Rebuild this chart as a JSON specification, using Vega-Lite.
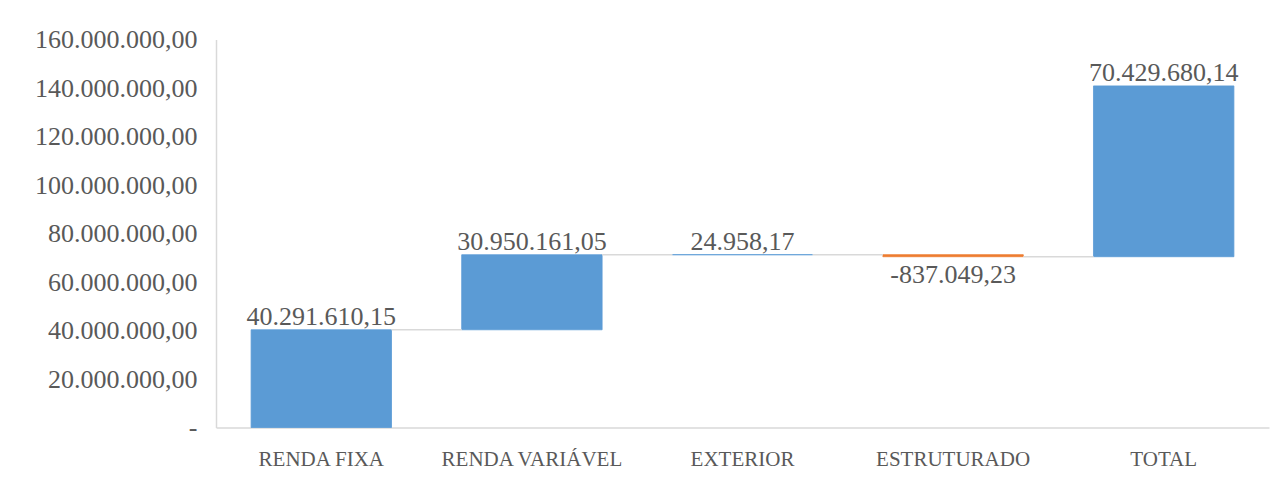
{
  "$schema": "https://vega.github.io/schema/vega-lite/v6.json",
  "autosize": {"type": "none"},
  "width": 1053,
  "height": 388,
  "padding": {"left": 216, "top": 39.5, "right": 7, "bottom": 51.5},
  "background": "#ffffff",
  "config": {
    "view": {"stroke": null},
    "locale": {"number": {"decimal": ",", "thousands": ".", "grouping": [3], "currency": ["R$", ""], "minus": "-"}},
    "font": "Liberation Serif"
  },
  "datasets": {
    "bars": [
      {"categoria": "RENDA FIXA", "inicio": 0, "fim": 40291610.15, "valor": 40291610.15, "tipo": "positivo"},
      {"categoria": "RENDA VARIÁVEL", "inicio": 40291610.15, "fim": 71241771.20, "valor": 30950161.05, "tipo": "positivo"},
      {"categoria": "EXTERIOR", "inicio": 71241771.20, "fim": 71266729.37, "valor": 24958.17, "tipo": "positivo"},
      {"categoria": "ESTRUTURADO", "inicio": 71266729.37, "fim": 70429680.14, "valor": -837049.23, "tipo": "negativo"},
      {"categoria": "TOTAL", "inicio": 70429680.14, "fim": 140859360.28, "valor": 70429680.14, "tipo": "total"}
    ],
    "conectores": [
      {"de": "RENDA FIXA", "para": "RENDA VARIÁVEL", "nivel": 40291610.15},
      {"de": "RENDA VARIÁVEL", "para": "EXTERIOR", "nivel": 71241771.20},
      {"de": "EXTERIOR", "para": "ESTRUTURADO", "nivel": 71266729.37},
      {"de": "ESTRUTURADO", "para": "TOTAL", "nivel": 70429680.14}
    ]
  },
  "layer": [
    {
      "data": {"name": "bars"},
      "mark": {"type": "bar", "strokeWidth": 0.8},
      "encoding": {
        "x": {
          "field": "categoria",
          "type": "nominal",
          "scale": {"domain": ["RENDA FIXA", "RENDA VARIÁVEL", "EXTERIOR", "ESTRUTURADO", "TOTAL"], "paddingInner": 0.3333, "paddingOuter": 0.1667},
          "axis": {
            "title": null,
            "labelAngle": 0,
            "bandPosition": 0.5,
            "labelFont": "Liberation Serif",
            "labelFontSize": 21,
            "labelColor": "#595959",
            "labelPadding": 21,
            "labelLimit": 0,
            "ticks": false,
            "domainColor": "#d9d9d9",
            "domainWidth": 1.5
          }
        },
        "y": {
          "field": "inicio",
          "type": "quantitative",
          "scale": {"domain": [0, 160000000], "nice": false},
          "axis": {
            "title": null,
            "values": [0, 20000000, 40000000, 60000000, 80000000, 100000000, 120000000, 140000000, 160000000],
            "labelExpr": "datum.value == 0 ? '-' : format(datum.value, ',.2f')",
            "labelFont": "Liberation Serif",
            "labelFontSize": 26,
            "labelColor": "#595959",
            "labelPadding": 19,
            "ticks": false,
            "grid": false,
            "domainColor": "#d9d9d9",
            "domainWidth": 1.5
          }
        },
        "y2": {"field": "fim"},
        "color": {
          "field": "tipo",
          "type": "nominal",
          "scale": {"domain": ["positivo", "negativo", "total"], "range": ["#5B9BD5", "#ED7D31", "#5B9BD5"]},
          "legend": null
        },
        "stroke": {
          "field": "tipo",
          "type": "nominal",
          "scale": {"domain": ["positivo", "negativo", "total"], "range": ["#5B9BD5", "#ED7D31", "#5B9BD5"]},
          "legend": null
        }
      }
    },
    {
      "data": {"name": "conectores"},
      "mark": {"type": "rule", "color": "#d9d9d9", "strokeWidth": 1.5},
      "encoding": {
        "x": {"field": "de", "type": "nominal", "bandPosition": 1},
        "x2": {"field": "para", "bandPosition": 0},
        "y": {"field": "nivel", "type": "quantitative"}
      }
    },
    {
      "data": {"name": "bars"},
      "transform": [{"filter": "datum.valor >= 0"}],
      "mark": {"type": "text", "baseline": "alphabetic", "dy": -5, "fontSize": 26, "font": "Liberation Serif", "color": "#595959"},
      "encoding": {
        "x": {"field": "categoria", "type": "nominal"},
        "y": {"field": "fim", "type": "quantitative"},
        "text": {"field": "valor", "type": "quantitative", "format": ",.2f"}
      }
    },
    {
      "data": {"name": "bars"},
      "transform": [{"filter": "datum.valor < 0"}],
      "mark": {"type": "text", "baseline": "top", "dy": 5, "fontSize": 26, "font": "Liberation Serif", "color": "#595959"},
      "encoding": {
        "x": {"field": "categoria", "type": "nominal"},
        "y": {"field": "fim", "type": "quantitative"},
        "text": {"field": "valor", "type": "quantitative", "format": ",.2f"}
      }
    }
  ]
}
